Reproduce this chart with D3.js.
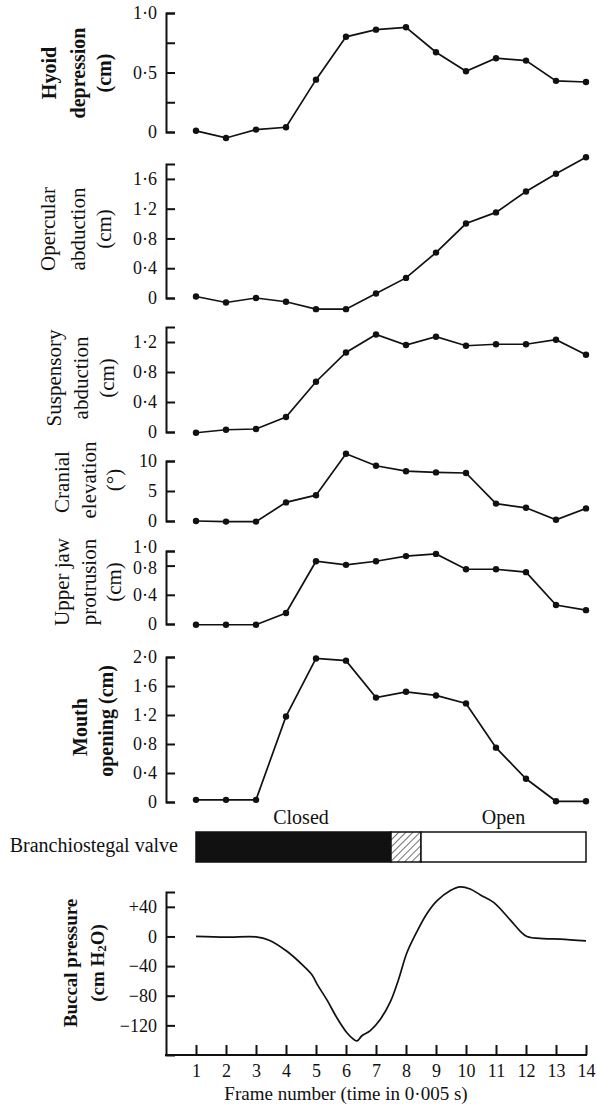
<!DOCTYPE html>
<html><head><meta charset="utf-8">
<script src="https://cdn.jsdelivr.net/npm/d3@7"></script>
<style>
body{margin:0;background:#fff}
svg{display:block}
text{font-family:"Liberation Serif","Times New Roman",serif;fill:#111}
</style>
</head><body>
<svg id="c" width="597" height="1111"></svg>
<script>
// ---------- data ----------
const frames = [1,2,3,4,5,6,7,8,9,10,11,12,13,14];

const hyoid      = [0.01,-0.05,0.02,0.04,0.44,0.80,0.86,0.88,0.67,0.51,0.62,0.60,0.43,0.42];
const opercular  = [0.02,-0.06,0.00,-0.05,-0.15,-0.15,0.06,0.27,0.61,1.00,1.15,1.43,1.67,1.89];
const suspensory = [-0.01,0.03,0.04,0.20,0.67,1.06,1.30,1.16,1.27,1.15,1.17,1.17,1.23,1.03];
const cranial    = [0.0,-0.1,-0.1,3.1,4.3,11.2,9.2,8.3,8.1,8.0,2.9,2.2,0.2,2.1];
const upperJaw   = [-0.01,-0.01,-0.01,0.15,0.86,0.81,0.86,0.93,0.96,0.75,0.75,0.71,0.26,0.19];
const mouth      = [0.03,0.03,0.03,1.18,1.98,1.95,1.44,1.52,1.47,1.36,0.75,0.32,0.01,0.01];

const pressureFrames = [1,2,3,3.44,4.03,4.59,4.87,5.03,5.37,5.7,6.03,6.26,6.37,6.53,6.81,7.14,7.48,7.76,8.03,8.37,8.7,9.03,9.48,9.81,10.14,10.48,10.92,11.48,11.81,12.03,12.59,13.14,14];
const pressureValues = [0,-1,-0.5,-5,-20,-40,-52,-64,-86,-110,-130,-139,-141,-134,-127,-112,-88,-57,-22,7,31,48,62,67,64,56,46,22,7,0,-3,-3.5,-6];

const valveStates = ["closed","transition","open"];
const valveStarts = [1,7.5,8.5];
const valveEnds   = [7.5,8.5,14];
const valveLabels = ["Closed","Open"];
const valveLabelFrames = [4.5,11.25];

const hyoidTicks = [0,0.25,0.5,0.75,1.0];
const hyoidTickLabels = ["0","","0·5","","1·0"];
const opercularTicks = [0,0.4,0.8,1.2,1.6];
const opercularTickLabels = ["0","0·4","0·8","1·2","1·6"];
const suspensoryTicks = [0,0.4,0.8,1.2];
const suspensoryTickLabels = ["0","0·4","0·8","1·2"];
const cranialTicks = [0,5,10];
const cranialTickLabels = ["0","5","10"];
const upperJawTicks = [0,0.4,0.8,1.0];
const upperJawTickLabels = ["0","0·4","0·8","1·0"];
const mouthTicks = [0,0.4,0.8,1.2,1.6,2.0];
const mouthTickLabels = ["0","0·4","0·8","1·2","1·6","2·0"];
const pressureTicks = [40,0,-40,-80,-120];
const pressureTickLabels = ["+40","0","−40","−80","−120"];

// ---------- layout ----------
const svg = d3.select("#c");
const axisX = 166;
const x = d3.scaleLinear().domain([1,14]).range([196,586]);

const panels = [
  {values:hyoid, domain:[0,1.0], range:[132,13], ticks:hyoidTicks, labels:hyoidTickLabels,
   title:["Hyoid","depression","(cm)"], tx:[49,78,104], ty:[73,73,73], bold:true, fs:20},
  {values:opercular, domain:[0,1.8], range:[298,164], ticks:opercularTicks, labels:opercularTickLabels,
   title:["Opercular","abduction","(cm)"], tx:[48,78,104], ty:[229,229,229], bold:false, fs:21},
  {values:suspensory, domain:[0,1.4], range:[432,327], ticks:suspensoryTicks, labels:suspensoryTickLabels,
   title:["Suspensory","abduction","(cm)"], tx:[54,81,107], ty:[378,378,378], bold:false, fs:21},
  {values:cranial, domain:[0,10], range:[521,461], ticks:cranialTicks, labels:cranialTickLabels,
   title:["Cranial","elevation","(°)"], tx:[62,89,114], ty:[482,480,480], bold:false, fs:21},
  {values:upperJaw, domain:[0,1.0], range:[624,551], ticks:upperJawTicks, labels:upperJawTickLabels,
   title:["Upper jaw","protrusion","(cm)"], tx:[62,89,114], ty:[582,582,582], bold:false, fs:21},
  {values:mouth, domain:[0,2.0], range:[802,657], ticks:mouthTicks, labels:mouthTickLabels,
   title:["Mouth","opening (cm)"], tx:[80,106], ty:[727,721], bold:true, fs:20}
];

function drawYAxis(y, ticks, labels, shifts){
  const g = svg.append("g").attr("transform",`translate(${axisX},0)`)
    .call(d3.axisLeft(y).tickValues(ticks).tickSize(-9).tickSizeOuter(-9).tickPadding(9)
      .tickFormat((d,i)=>labels[i]));
  g.selectAll("path.domain").attr("stroke","#111").attr("stroke-width",2);
  g.selectAll(".tick line").attr("stroke","#111").attr("stroke-width",2);
  g.selectAll(".tick text").attr("font-size",18).attr("fill","#111")
    .attr("font-family",'"Liberation Serif","Times New Roman",serif');
  if (shifts) g.selectAll(".tick text").attr("y",(d,i)=>shifts[i]||0);
  return g;
}

function drawTitle(lines, xs, ys, bold, fs){
  lines.forEach((t,i)=>{
    svg.append("text").attr("transform",`translate(${xs[i]},${ys[i]}) rotate(-90)`)
      .attr("text-anchor","middle").attr("dominant-baseline","central")
      .attr("font-weight",bold?"bold":"normal")
      .attr("font-size",fs).text(t);
  });
}

panels.forEach(p=>{
  const y = d3.scaleLinear().domain(p.domain).range(p.range);
  const shifts = p.values===upperJaw ? [0,0,2,-4] : null;
  drawYAxis(y, p.ticks, p.labels, shifts);
  drawTitle(p.title, p.tx, p.ty, p.bold, p.fs);
  const line = d3.line().x((d,i)=>x(frames[i])).y(d=>y(d));
  svg.append("path").datum(p.values).attr("d",line)
    .attr("fill","none").attr("stroke","#111").attr("stroke-width",1.7);
  svg.append("g").selectAll("circle").data(p.values).join("circle")
    .attr("cx",(d,i)=>x(frames[i])).attr("cy",d=>y(d)).attr("r",3.2).attr("fill","#111");
});

// ---------- valve bar ----------
const defs = svg.append("defs");
const pat = defs.append("pattern").attr("id","hatch").attr("patternUnits","userSpaceOnUse")
  .attr("width",5).attr("height",5).attr("patternTransform","rotate(45)");
pat.append("rect").attr("width",5).attr("height",5).attr("fill","#fff");
pat.append("line").attr("x1",0).attr("y1",0).attr("x2",0).attr("y2",5)
  .attr("stroke","#111").attr("stroke-width",1.2);

const barTop = 832, barH = 30;
svg.append("g").selectAll("rect").data(valveStates).join("rect")
  .attr("x",(d,i)=>x(valveStarts[i])).attr("y",barTop)
  .attr("width",(d,i)=>x(valveEnds[i])-x(valveStarts[i])).attr("height",barH)
  .attr("fill",d=>d==="closed"?"#111":d==="transition"?"url(#hatch)":"#fff")
  .attr("stroke","#111").attr("stroke-width",1.5);
svg.append("g").selectAll("text").data(valveLabels).join("text")
  .attr("x",(d,i)=>x(valveLabelFrames[i])).attr("y",824)
  .attr("text-anchor","middle").attr("font-size",20).text(d=>d);
svg.append("text").attr("x",178).attr("y",852).attr("text-anchor","end")
  .attr("font-size",20).text("Branchiostegal valve");

// ---------- buccal pressure ----------
const yp = d3.scaleLinear().domain([-160,60]).range([1055,892]);
drawYAxis(yp, pressureTicks, pressureTickLabels);
svg.append("text").attr("transform",`translate(70,963) rotate(-90)`)
  .attr("text-anchor","middle").attr("dominant-baseline","central").attr("font-size",19)
  .attr("font-weight","bold").text("Buccal pressure");
const t2 = svg.append("text").attr("transform",`translate(97,963) rotate(-90)`)
  .attr("text-anchor","middle").attr("dominant-baseline","central").attr("font-size",19)
  .attr("font-weight","bold");
t2.append("tspan").text("(cm H");
t2.append("tspan").attr("font-size",13).attr("dy",4).text("2");
t2.append("tspan").attr("dy",-4).text("O)");

const pline = d3.line().curve(d3.curveCatmullRom.alpha(0.5))
  .x((d,i)=>x(pressureFrames[i])).y(d=>yp(d));
svg.append("path").datum(pressureValues).attr("d",pline)
  .attr("fill","none").attr("stroke","#111").attr("stroke-width",1.7);

const gx = svg.append("g").attr("transform","translate(0,1055)")
  .call(d3.axisBottom(x).tickValues(frames).tickSize(-10).tickSizeOuter(0).tickPadding(9)
    .tickFormat(d3.format("d")));
gx.select("path.domain").remove();
gx.selectAll(".tick line").attr("stroke","#111").attr("stroke-width",2);
gx.selectAll(".tick text").attr("font-size",18).attr("fill","#111")
  .attr("font-family",'"Liberation Serif","Times New Roman",serif');
svg.append("line").attr("x1",axisX-1).attr("x2",x(14)+1).attr("y1",1055).attr("y2",1055)
  .attr("stroke","#111").attr("stroke-width",2);

svg.append("text").attr("x",346).attr("y",1100).attr("text-anchor","middle")
  .attr("font-size",19).text("Frame number (time in 0·005 s)");
</script>
</body></html>
